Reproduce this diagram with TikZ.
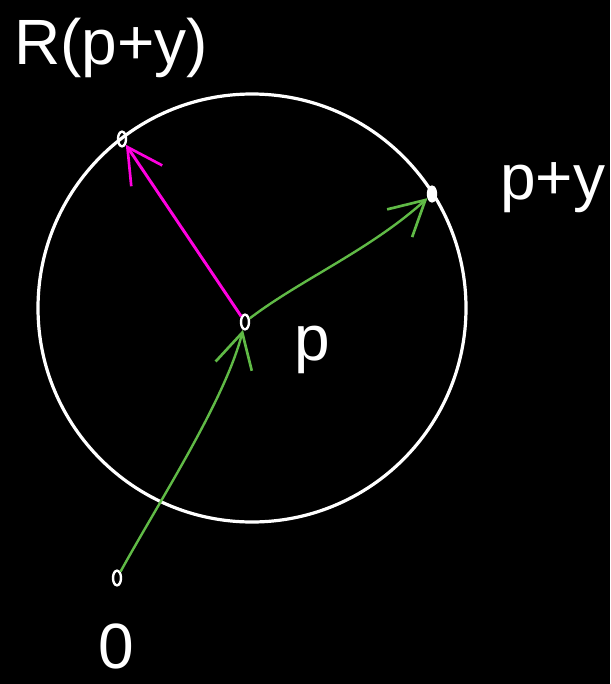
\documentclass[tikz,border=0pt]{standalone}
\usepackage{fontspec}
\setmainfont{Liberation Sans}
\usetikzlibrary{shapes.geometric,arrows.meta}
\definecolor{hgreen}{RGB}{96,186,70}
\definecolor{hmag}{RGB}{255,0,224}
\tikzset{
  pt/.style={draw=white, line width=1.8pt, ellipse, inner sep=0pt, minimum width=6pt, minimum height=11pt},
  lbl/.style={text=white, font=\fontsize{48}{52}\selectfont, inner sep=0pt},
  vec/.style={line width=1.8pt, -{Straight Barb[length=26pt,width=28pt,line width=2pt]}},
}
\begin{document}
\begin{tikzpicture}[x=0.75pt,y=-0.75pt]
\fill[black] (0,0) rectangle (610,684);
\useasboundingbox (0,0) rectangle (610,684);
\draw[white, line width=2.4pt] (252,308) circle[radius=160.5pt];
\node[pt] (O) at (117,578) {};
\node[pt] (P) at (245,322) {};
\node[pt, fill=white] (Q) at (432,194) {};
\node[pt] (R) at (122,139) {};
\node[lbl, anchor=north west] (lR) at (14,18) {R(p+y)};
\node[lbl, anchor=north west] (lQ) at (500,162) {p+y};
\node[lbl, anchor=north west] (lP) at (294,326) {p};
\node[lbl, anchor=north west] (lO) at (98,624) {0};
\draw[vec, hgreen] (O) .. controls (160,500) and (225,400) .. (P);
\draw[vec, hgreen] (P) .. controls (300,280) and (370,250) .. (Q);
\draw[vec, hmag, line width=2.2pt] (P) -- (R);
\end{tikzpicture}
\end{document}
